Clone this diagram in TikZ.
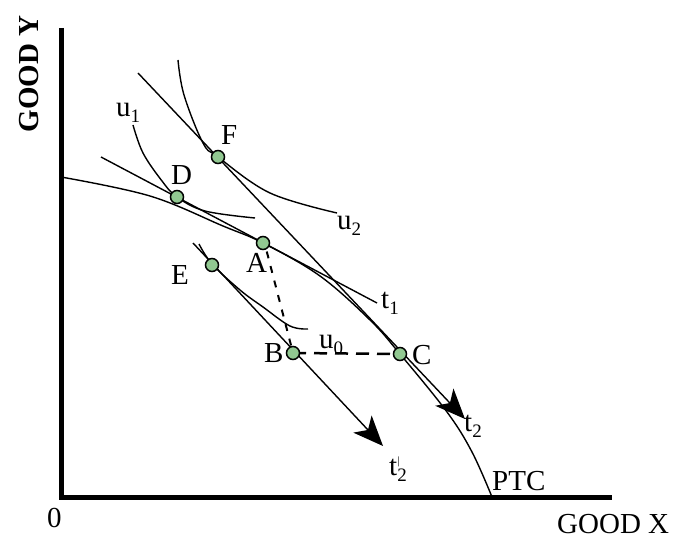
\documentclass[tikz,border=0pt]{standalone}
\usepackage{fontspec}
\setmainfont{Liberation Serif}
\usetikzlibrary{arrows.meta}
\definecolor{dotgreen}{RGB}{145,200,145}
\newcommand\lsub[1]{\raisebox{-6bp}{\fontsize{19bp}{19bp}\selectfont #1}}
\newcommand\tprime{t\raisebox{-6bp}{\shortstack[l]{\fontsize{11bp}{8bp}\selectfont\textbar\\[-1bp]\fontsize{19bp}{19bp}\selectfont 2}}}
\begin{document}
\begin{tikzpicture}[x=1bp,y=-1bp,
  font=\fontsize{29bp}{34bp}\selectfont,
  curve/.style={line width=1.4bp},
  axis/.style={line width=5bp, line join=miter},
  dot/.style={circle, draw=black, line width=1.5bp, fill=dotgreen, minimum size=13bp, inner sep=0pt},
  lbl/.style={inner sep=0pt, anchor=base west},
  arr/.style={-{Stealth[length=30bp,width=25bp,inset=8bp]}},
  dashAB/.style={line width=2bp, dash pattern=on 7bp off 8bp},
  dashBC/.style={line width=2.5bp, dash pattern=on 13bp off 8bp}]
\useasboundingbox (0,0) rectangle (684,548);

% axes
\coordinate (ytop) at (61,28);
\coordinate (O) at (61,497);
\coordinate (xend) at (612,497);
\draw[axis] (ytop) -- (O) -- (xend);

% point coordinates
\coordinate (F) at (218,157);
\coordinate (D) at (177,197);
\coordinate (A) at (263,243);
\coordinate (E) at (212,265);
\coordinate (B) at (293,353);
\coordinate (C) at (400,354);

% tangent lines
\coordinate (t1s) at (101,157);
\coordinate (t1e) at (377,303);
\draw[curve] (t1s) -- (t1e);
\coordinate (t2s) at (138,73);
\coordinate (t2e) at (465,419);
\draw[curve,arr] (t2s) -- (t2e);
\coordinate (tps) at (193,243);
\coordinate (tpe) at (383,446);
\draw[curve,arr] (tps) -- (tpe);

% PTC
\draw[curve] plot[smooth, tension=0.6] coordinates {(61,177) (150,196) (223,226) (263,243) (320,276) (370,320) (400,354) (447,412) (472,452) (492,497)};
% indifference curves
\draw[curve] plot[smooth, tension=0.6] coordinates {(133,125) (143,153) (162,181) (177,197) (205,211) (255,218)};
\draw[curve] plot[smooth, tension=0.6] coordinates {(178,60) (184,95) (203,143) (218,157) (270,193) (337,213)};
\draw[curve] plot[smooth, tension=0.6] coordinates {(199,244) (212,264) (240,290) (263,307) (290,326) (308,329)};

% dashed lines
\draw[dashAB] ([yshift=6bp]A) -- (B);
\draw[dashBC] (B) -- (C);

% dots
\node[dot] (nF) at (F) {};
\node[dot] (nD) at (D) {};
\node[dot] (nA) at (A) {};
\node[dot] (nE) at (E) {};
\node[dot] (nB) at (B) {};
\node[dot] (nC) at (C) {};

% labels
\node[lbl] (lF) at (221,145) {F};
\node[lbl] (lD) at (171,185) {D};
\node[lbl] (lA) at (246,273) {A};
\node[lbl] (lE) at (171,284) {E};
\node[lbl] (lB) at (264,362) {B};
\node[lbl] (lC) at (412,364) {C};
\node[lbl] (lu1) at (116,117) {u\lsub{1}};
\node[lbl] (lu2) at (337,230) {u\lsub{2}};
\node[lbl] (lu0) at (319,348) {u\lsub{0}};
\node[lbl] (lt1) at (381,308) {t\lsub{1}};
\node[lbl] (lt2) at (464,431) {t\lsub{2}};
\node[lbl] (ltp) at (389,475) {\tprime};
\node[lbl] (lPTC) at (492,490) {PTC};
\node[lbl] (lzero) at (47,527) {0};
\node[lbl] (lgx) at (557,533) {GOOD X};
\node[inner sep=0pt, rotate=90, font=\fontsize{29bp}{34bp}\selectfont\bfseries] (lgy) at (29,74) {GOOD Y};
\end{tikzpicture}
\end{document}
